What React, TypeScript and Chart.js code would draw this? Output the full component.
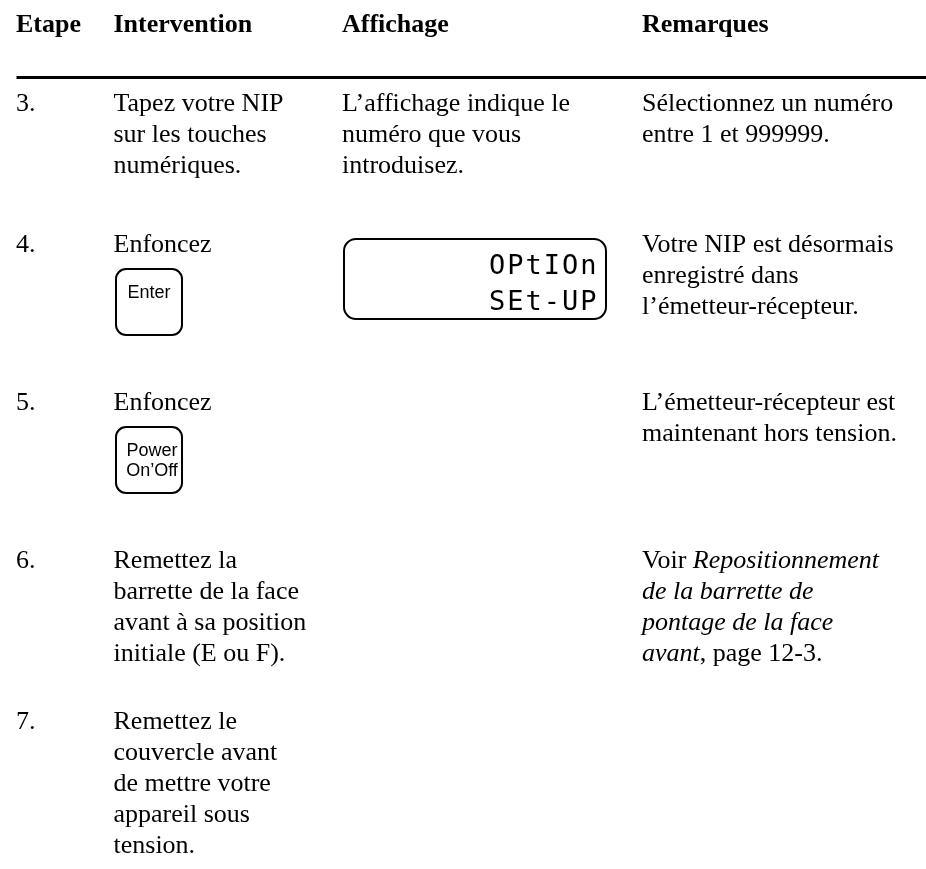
import React, { useEffect, useRef } from 'react';
import { Chart, registerables } from 'chart.js';

Chart.register(...registerables);

type Seg = [string, boolean];

const headerLabels: string[] = ['Etape', 'Intervention', 'Affichage', 'Remarques'];

const stepLabels: string[] = ['3.', '4.', '5.', '6.', '7.'];

const interventionLines: string[][] = [
  ['Tapez votre NIP', 'sur les touches', 'numériques.'],
  ['Enfoncez'],
  ['Enfoncez'],
  ['Remettez la', 'barrette de la face', 'avant à sa position', 'initiale (E ou F).'],
  ['Remettez le', 'couvercle avant', 'de mettre votre', 'appareil sous', 'tension.'],
];

const keyLabels: (string[] | null)[] = [null, ['Enter'], ['Power', 'On’Off'], null, null];

const displayLines: string[][] = [
  ['L’affichage indique le', 'numéro que vous', 'introduisez.'],
  [],
  [],
  [],
  [],
];

const lcdLines: (string[] | null)[] = [null, ['OPtIOn', 'SEt-UP'], null, null, null];

const remarkLines: Seg[][][] = [
  [[['Sélectionnez un numéro', false]], [['entre 1 et 999999.', false]]],
  [
    [['Votre NIP est désormais', false]],
    [['enregistré dans', false]],
    [['l’émetteur-récepteur.', false]],
  ],
  [[['L’émetteur-récepteur est', false]], [['maintenant hors tension.', false]]],
  [
    [['Voir ', false], ['Repositionnement', true]],
    [['de la barrette de', true]],
    [['pontage de la face', true]],
    [['avant', true], [', page 12-3.', false]],
  ],
  [],
];

const SERIF = '"Liberation Serif", "Times New Roman", Times, serif';
const SANS = '"Liberation Sans", Arial, Helvetica, sans-serif';
const MONO = '"DejaVu Sans Mono", monospace';

const W = 926;
const H = 869;

const tablePlugin = {
  id: 'procedureTable',
  afterDraw(chart: any) {
    const ctx: CanvasRenderingContext2D = chart.ctx;
    const sx = chart.scales.x;
    const sy = chart.scales.y;
    const X = (v: number) => sx.getPixelForValue(v);
    const Y = (v: number) => sy.getPixelForValue(v);

    const colX = [16, 113.5, 342, 642];
    const headerBase = 32;
    const rowBase = [111, 252, 410, 568, 728.5];
    const lineH = 31.05;

    ctx.save();
    ctx.fillStyle = '#000';
    ctx.strokeStyle = '#000';
    ctx.textBaseline = 'alphabetic';
    ctx.textAlign = 'left';

    // header
    ctx.font = `bold 26px ${SERIF}`;
    headerLabels.forEach((h, i) => ctx.fillText(h, X(colX[i]), Y(headerBase)));

    // rule
    ctx.lineWidth = 3;
    ctx.beginPath();
    ctx.moveTo(X(16.5), Y(77.5));
    ctx.lineTo(X(W), Y(77.5));
    ctx.stroke();

    stepLabels.forEach((step, r) => {
      const b = rowBase[r];
      ctx.font = `26px ${SERIF}`;
      ctx.textAlign = 'left';
      ctx.fillText(step, X(colX[0]), Y(b));
      interventionLines[r].forEach((t, k) => ctx.fillText(t, X(colX[1]), Y(b + k * lineH)));
      displayLines[r].forEach((t, k) => ctx.fillText(t, X(colX[2]), Y(b + k * lineH)));

      remarkLines[r].forEach((line, k) => {
        let x = X(colX[3]);
        line.forEach(([txt, italic]) => {
          ctx.font = `${italic ? 'italic ' : ''}26px ${SERIF}`;
          ctx.fillText(txt, x, Y(b + k * lineH));
          x += ctx.measureText(txt).width;
        });
      });

      // key button
      const keys = keyLabels[r];
      if (keys) {
        const top = b + 16;
        ctx.lineWidth = 2;
        ctx.beginPath();
        (ctx as any).roundRect(X(116), Y(top + 1), X(182) - X(116), Y(top + 67) - Y(top + 1), 10);
        ctx.stroke();
        ctx.font = `18px ${SANS}`;
        ctx.textAlign = 'center';
        const cx = keys.length === 1 ? 149 : 152;
        keys.forEach((t, k) => ctx.fillText(t, X(cx), Y(top + 29.5 + k * 20.5)));
        ctx.textAlign = 'left';
      }

      // LCD display
      const lcd = lcdLines[r];
      if (lcd) {
        const top = b - 14;
        ctx.lineWidth = 2;
        ctx.beginPath();
        (ctx as any).roundRect(X(344), Y(top + 1), X(606) - X(344), Y(top + 81) - Y(top + 1), 12);
        ctx.stroke();
        ctx.font = `27px ${MONO}`;
        (ctx as any).letterSpacing = '2px';
        ctx.textAlign = 'left';
        const bases = [top + 35.5, top + 72];
        lcd.forEach((t, k) => ctx.fillText(t, X(489), Y(bases[k])));
        (ctx as any).letterSpacing = '0px';
      }
    });

    ctx.restore();
  },
};

export default function App() {
  const ref = useRef<HTMLCanvasElement | null>(null);

  useEffect(() => {
    document.body.style.margin = '0';
    const canvas = ref.current;
    if (!canvas) return;
    const chart = new Chart(canvas, {
      type: 'scatter',
      data: { datasets: [{ data: [] }] },
      options: {
        animation: false,
        responsive: false,
        devicePixelRatio: 1,
        layout: { padding: 0 },
        events: [],
        scales: {
          x: { type: 'linear', min: 0, max: W, display: false },
          y: { type: 'linear', min: 0, max: H, reverse: true, display: false },
        },
        plugins: { legend: { display: false }, tooltip: { enabled: false }, title: { display: false } },
      },
      plugins: [tablePlugin],
    } as any);
    return () => chart.destroy();
  }, []);

  return (
    <div style={{ width: W, height: H, background: '#fff' }}>
      <canvas ref={ref} width={W} height={H} style={{ display: 'block', width: W, height: H }} />
    </div>
  );
}
